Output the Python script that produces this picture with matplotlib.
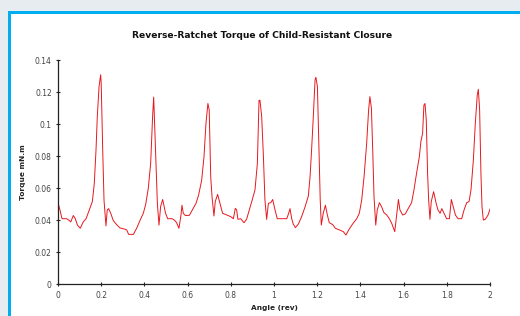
import matplotlib
matplotlib.use("Agg")
import matplotlib.pyplot as plt
from matplotlib.patches import Rectangle

angle = [0.0, 0.009, 0.0185, 0.04, 0.051, 0.059, 0.071, 0.08, 0.09, 0.103, 0.117, 0.13, 0.145, 0.159,
         0.168, 0.176, 0.182, 0.19, 0.1975, 0.2, 0.207, 0.213, 0.222, 0.228, 0.2346, 0.244, 0.256,
         0.2716, 0.287, 0.3056, 0.318, 0.327, 0.349, 0.364, 0.38, 0.395, 0.406, 0.418, 0.429, 0.438,
         0.443, 0.446, 0.454, 0.46, 0.4676, 0.475, 0.4846, 0.491, 0.498, 0.5077, 0.528, 0.54, 0.549,
         0.56, 0.5694, 0.574, 0.58, 0.5895, 0.608, 0.6235, 0.639, 0.651, 0.665, 0.676, 0.685, 0.694,
         0.7, 0.707, 0.713, 0.722, 0.728, 0.739, 0.75, 0.762, 0.781, 0.7994, 0.812, 0.821, 0.827,
         0.833, 0.846, 0.861, 0.873, 0.886, 0.897, 0.912, 0.923, 0.9306, 0.935, 0.943, 0.951, 0.958,
         0.966, 0.974, 0.985, 0.994, 1.003, 1.015, 1.059, 1.068, 1.074, 1.082, 1.089, 1.099, 1.113,
         1.128, 1.144, 1.159, 1.167, 1.174, 1.182, 1.19, 1.194, 1.201, 1.208, 1.214, 1.219, 1.228,
         1.238, 1.247, 1.256, 1.272, 1.284, 1.303, 1.321, 1.333, 1.346, 1.364, 1.383, 1.395, 1.406,
         1.417, 1.429, 1.438, 1.444, 1.451, 1.457, 1.463, 1.471, 1.478, 1.488, 1.498, 1.509, 1.522,
         1.534, 1.545, 1.559, 1.568, 1.576, 1.583, 1.596, 1.608, 1.622, 1.637, 1.648, 1.66, 1.673,
         1.68, 1.688, 1.694, 1.699, 1.705, 1.711, 1.716, 1.722, 1.728, 1.739, 1.75, 1.759, 1.769,
         1.777, 1.787, 1.799, 1.812, 1.821, 1.83, 1.84, 1.852, 1.869, 1.88, 1.892, 1.903, 1.912,
         1.923, 1.932, 1.941, 1.946, 1.952, 1.958, 1.963, 1.969, 1.978, 1.991, 2.0]

torque = [0.051, 0.0465, 0.041, 0.041, 0.040, 0.039, 0.043, 0.041, 0.037, 0.035, 0.039, 0.041, 0.0465,
          0.0517, 0.063, 0.084, 0.105, 0.1235, 0.131, 0.1256, 0.084, 0.0527, 0.0365, 0.0465, 0.0473,
          0.0444, 0.0398, 0.0373, 0.0352, 0.0346, 0.034, 0.0312, 0.0312, 0.035, 0.040, 0.0444, 0.050,
          0.060, 0.0756, 0.105, 0.117, 0.105, 0.0735, 0.0506, 0.037, 0.0485, 0.053, 0.049, 0.0444,
          0.041, 0.041, 0.040, 0.0385, 0.035, 0.0433, 0.0494, 0.0444, 0.043, 0.0431, 0.0469, 0.0506,
          0.0558, 0.065, 0.0798, 0.1006, 0.113, 0.109, 0.0673, 0.0548, 0.0427, 0.0517, 0.0562, 0.0506,
          0.0444, 0.0433, 0.0423, 0.041, 0.0475, 0.0465, 0.0406, 0.041, 0.0385, 0.0406, 0.0465, 0.0517,
          0.059, 0.0756, 0.115, 0.115, 0.105, 0.0798, 0.0527, 0.0406, 0.0506, 0.051, 0.053, 0.0475,
          0.041, 0.041, 0.0444, 0.0473, 0.041, 0.0377, 0.0354, 0.0377, 0.0423, 0.0485, 0.0552, 0.0673,
          0.084, 0.1048, 0.1277, 0.1294, 0.1235, 0.084, 0.0527, 0.037, 0.0444, 0.0494, 0.0433, 0.0385,
          0.0373, 0.035, 0.034, 0.0329, 0.0308, 0.034, 0.0377, 0.041, 0.0444, 0.0527, 0.0673, 0.0881,
          0.109, 0.1173, 0.11, 0.084, 0.0548, 0.037, 0.0465, 0.051, 0.0485, 0.0448, 0.0433, 0.041,
          0.0381, 0.0329, 0.0433, 0.053, 0.0465, 0.0433, 0.044, 0.0475, 0.051, 0.059, 0.0694, 0.0798,
          0.0892, 0.0944, 0.112, 0.113, 0.1027, 0.0694, 0.0527, 0.0406, 0.0517, 0.0579, 0.051, 0.0465,
          0.0444, 0.0473, 0.0444, 0.041, 0.041, 0.053, 0.0485, 0.0433, 0.041, 0.041, 0.0465, 0.051,
          0.0517, 0.059, 0.0777, 0.1006, 0.1183, 0.1219, 0.109, 0.0694, 0.0485, 0.0402, 0.0406, 0.0433,
          0.047]

x_ticks = [0, 0.2, 0.4, 0.6, 0.8, 1, 1.2, 1.4, 1.6, 1.8, 2]
x_tick_labels = ["0", "0.2", "0.4", "0.6", "0.8", "1", "1.2", "1.4", "1.6", "1.8", "2"]
y_ticks = [0, 0.02, 0.04, 0.06, 0.08, 0.1, 0.12, 0.14]
y_tick_labels = ["0", "0.02", "0.04", "0.06", "0.08", "0.1", "0.12", "0.14"]

title = "Reverse-Ratchet Torque of Child-Resistant Closure"
x_label = "Angle (rev)"
y_label = "Torque mN.m"

fig = plt.figure(figsize=(5.2, 3.16), dpi=100)
fig.patch.set_facecolor("#e6ecef")

# white panel with cyan border
W, H = 520, 316
fig.patches.append(Rectangle((8 / W, 0), 1.0, (H - 11) / H, transform=fig.transFigure,
                             facecolor="#00aeef", edgecolor="none", zorder=-10))
fig.patches.append(Rectangle((11 / W, 0), 1.0, (H - 14) / H, transform=fig.transFigure,
                             facecolor="white", edgecolor="none", zorder=-9))

ax = fig.add_axes([58 / W, 1 - 284.3 / H, 432 / W, 224 / H])
ax.set_zorder(5)
ax.set_facecolor("none")
ax.plot(angle, torque, color="#e8171d", linewidth=0.7)

ax.set_xlim(0, 2)
ax.set_ylim(0, 0.14)
ax.set_xticks(x_ticks)
ax.set_xticklabels(x_tick_labels)
ax.set_yticks(y_ticks)
ax.set_yticklabels(y_tick_labels)
for s in ["top", "right"]:
    ax.spines[s].set_visible(False)
for s in ["left", "bottom"]:
    ax.spines[s].set_color("#222222")
    ax.spines[s].set_linewidth(0.9)
ax.tick_params(axis="both", direction="inout", length=3, width=0.8,
               labelsize=5.5, labelcolor="#444444", color="#222222", pad=3)

ax.set_xlabel(x_label, fontsize=5.3, fontweight="bold", labelpad=4, color="#222222")
ax.set_ylabel(y_label, fontsize=5.3, fontweight="bold", labelpad=6, color="#222222")
fig.text(262 / W, 1 - 36 / H, title, ha="center", va="center",
         fontsize=6.6, fontweight="bold", color="#111111", zorder=6)

fig.savefig("out.png", dpi=100, facecolor=fig.get_facecolor())
